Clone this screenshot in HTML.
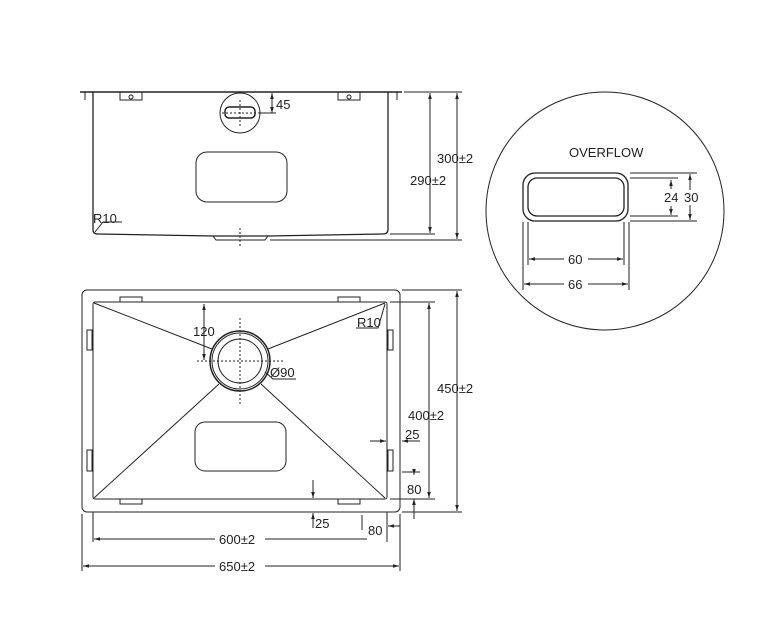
<!DOCTYPE html>
<html><head><style>body{margin:0;background:#fff}svg{display:block}text{font-family:"Liberation Sans",sans-serif;font-size:13px;fill:#222}</style></head><body>
<svg width="762" height="644" viewBox="0 0 762 644" xmlns="http://www.w3.org/2000/svg">
<defs><marker id="a" viewBox="0 0 10 10" refX="10" refY="5" markerWidth="6" markerHeight="6" orient="auto-start-reverse"><path d="M0,2 L10,5 L0,8z" fill="#222"/></marker></defs>
<g fill="none" stroke="#222" stroke-width="1">
<!-- top view -->
<line x1="80" y1="92" x2="402" y2="92" stroke-width="1.5"/>
<line x1="85" y1="92" x2="85" y2="100"/><line x1="397" y1="92" x2="397" y2="100"/>
<path d="M93,92 V230 Q93,234 98,234 L213,236 L268,236 L383,234 Q388,234 388,229 V92" stroke-width="1.3"/>
<path d="M213,236 L216,240 L265,240 L268,236"/>
<line x1="270" y1="240" x2="462" y2="240"/>
<line x1="390" y1="234" x2="435" y2="234"/>
<path d="M120,92 V100 H142 V92 M338,92 V100 H360 V92"/>
<circle cx="131" cy="97" r="2"/><circle cx="349" cy="97" r="2"/>
<circle cx="240" cy="113" r="20"/>
<rect x="225" y="107" width="30" height="11" rx="4" stroke-width="1.5"/>
<line x1="240" y1="100" x2="240" y2="128" stroke-dasharray="2,2"/>
<line x1="222" y1="113" x2="260" y2="113" stroke-dasharray="2,2"/>
<line x1="240" y1="228" x2="240" y2="248" stroke-dasharray="2,2"/>
<line x1="260" y1="113" x2="276" y2="113"/>
<line x1="272" y1="93" x2="272" y2="113" marker-start="url(#a)" marker-end="url(#a)"/>
<rect x="196" y="152" width="91" height="50" rx="11"/>
<path d="M95,232 L103,222 H122"/>
<line x1="430" y1="93" x2="430" y2="233" marker-start="url(#a)" marker-end="url(#a)"/>
<line x1="457" y1="93" x2="457" y2="239" marker-start="url(#a)" marker-end="url(#a)"/>
<line x1="404" y1="92" x2="462" y2="92"/>
<!-- plan view -->
<rect x="82" y="290" width="318" height="222" rx="5"/>
<rect x="93" y="302" width="294" height="197" rx="2"/>
<rect x="120" y="297" width="22" height="5"/><rect x="338" y="297" width="22" height="5"/>
<rect x="120" y="499" width="22" height="5"/><rect x="338" y="499" width="22" height="5"/>
<rect x="87" y="330" width="5" height="20"/><rect x="87" y="450" width="5" height="21"/>
<rect x="388" y="330" width="5" height="20"/><rect x="388" y="450" width="5" height="21"/>
<circle cx="240" cy="361" r="30" stroke-width="1.5"/><circle cx="240" cy="361" r="28"/>
<circle cx="240" cy="361" r="22"/>
<line x1="240" y1="318" x2="240" y2="405" stroke-dasharray="2,2"/>
<line x1="197" y1="361" x2="285" y2="361" stroke-dasharray="2,2"/>
<line x1="94" y1="303" x2="212" y2="349"/>
<line x1="385" y1="303" x2="268" y2="349"/>
<line x1="94" y1="498" x2="219" y2="384"/>
<line x1="385" y1="498" x2="261" y2="384"/>
<rect x="195" y="422" width="91" height="49" rx="10"/>
<line x1="204" y1="304" x2="204" y2="360" marker-start="url(#a)" marker-end="url(#a)"/>
<path d="M265,372 L273,379 H296"/>
<path d="M385,304 L378,328 H356"/>
<line x1="390" y1="302" x2="435" y2="302"/>
<line x1="390" y1="499" x2="435" y2="499"/>
<line x1="402" y1="290" x2="462" y2="290"/>
<line x1="402" y1="512" x2="462" y2="512"/>
<line x1="429" y1="303" x2="429" y2="498" marker-start="url(#a)" marker-end="url(#a)"/>
<line x1="457" y1="291" x2="457" y2="511" marker-start="url(#a)" marker-end="url(#a)"/>
<line x1="370" y1="441" x2="386" y2="441" marker-end="url(#a)"/>
<line x1="420" y1="441" x2="402" y2="441" marker-end="url(#a)"/>
<line x1="402" y1="472" x2="420" y2="472"/>
<line x1="414" y1="472" x2="414" y2="475" marker-end="url(#a)"/>
<line x1="414" y1="510" x2="414" y2="499" marker-end="url(#a)"/>
<line x1="414" y1="500" x2="414" y2="519"/>
<line x1="313" y1="480" x2="313" y2="498" marker-end="url(#a)"/>
<line x1="313" y1="528" x2="313" y2="513" marker-end="url(#a)"/>
<line x1="362" y1="515" x2="362" y2="530"/>
<line x1="400" y1="526" x2="388" y2="526" marker-end="url(#a)"/>
<line x1="93" y1="512" x2="93" y2="542"/><line x1="387" y1="512" x2="387" y2="542"/>
<line x1="82" y1="514" x2="82" y2="571"/><line x1="400" y1="514" x2="400" y2="571"/>
<line x1="94" y1="539" x2="215" y2="539" marker-start="url(#a)"/><line x1="265" y1="539" x2="367" y2="539"/>
<line x1="83" y1="566" x2="215" y2="566" marker-start="url(#a)"/><line x1="265" y1="566" x2="399" y2="566" marker-end="url(#a)"/>
<!-- overflow detail -->
<circle cx="605" cy="211" r="119"/>
<rect x="523" y="173" width="105" height="48" rx="12" stroke-width="1.3"/>
<rect x="528" y="178" width="96" height="38" rx="9" stroke-width="1.3"/>
<line x1="630" y1="173" x2="697" y2="173"/><line x1="630" y1="221" x2="697" y2="221"/>
<line x1="630" y1="178" x2="678" y2="178"/><line x1="630" y1="216" x2="678" y2="216"/>
<line x1="671" y1="189" x2="671" y2="180" marker-end="url(#a)"/>
<line x1="671" y1="206" x2="671" y2="215" marker-end="url(#a)"/>
<line x1="690" y1="174" x2="690" y2="190" marker-start="url(#a)"/>
<line x1="690" y1="205" x2="690" y2="220" marker-end="url(#a)"/>
<line x1="528" y1="222" x2="528" y2="265"/><line x1="624" y1="222" x2="624" y2="265"/>
<line x1="523" y1="222" x2="523" y2="290"/><line x1="629" y1="222" x2="629" y2="290"/>
<line x1="529" y1="259" x2="564" y2="259" marker-start="url(#a)"/><line x1="588" y1="259" x2="623" y2="259" marker-end="url(#a)"/>
<line x1="524" y1="284" x2="564" y2="284" marker-start="url(#a)"/><line x1="588" y1="284" x2="628" y2="284" marker-end="url(#a)"/>
</g>
<text x="276" y="109">45</text>
<text x="437" y="163">300±2</text>
<text x="410" y="185">290±2</text>
<text x="93" y="223">R10</text>
<text x="193" y="336">120</text>
<text x="270" y="377">Ø90</text>
<text x="357" y="327">R10</text>
<text x="408" y="420">400±2</text>
<text x="437" y="393">450±2</text>
<text x="405" y="439">25</text>
<text x="407" y="494">80</text>
<text x="315" y="528">25</text>
<text x="368" y="535">80</text>
<text x="219" y="544">600±2</text>
<text x="219" y="571">650±2</text>
<text x="569" y="157">OVERFLOW</text>
<text x="664" y="202">24</text>
<text x="684" y="202">30</text>
<text x="568" y="264">60</text>
<text x="568" y="289">66</text>
</svg>
</body></html>
